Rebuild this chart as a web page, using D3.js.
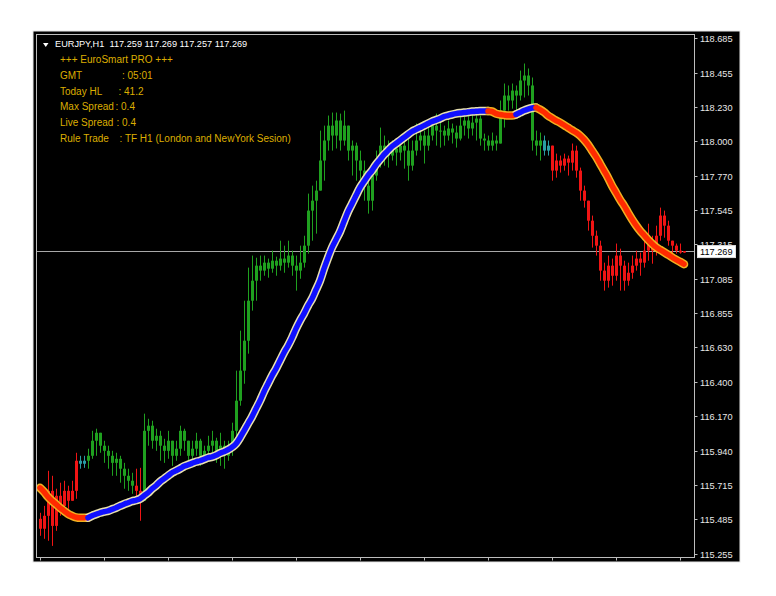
<!DOCTYPE html>
<html><head><meta charset="utf-8">
<script src="https://cdn.jsdelivr.net/npm/d3@7"></script>
<style>body{margin:0;background:#fff}svg{display:block}</style>
</head><body><svg id="c" width="776" height="596"></svg>
<script>
// ---------- DATA ----------
const symbol = "EURJPY,H1";
const lastBarOHLC = [117.259, 117.269, 117.257, 117.269];
const firstOpen = 115.489;
const closes = [115.423,115.509,115.675,115.442,115.642,115.575,115.675,115.609,115.675,115.875,
115.855,115.875,115.908,116.008,116.061,115.975,115.941,115.908,115.861,115.888,
115.822,115.775,115.742,115.709,115.675,115.609,116.074,116.108,116.008,116.041,
115.975,115.941,116.008,115.908,115.955,116.074,116.008,115.908,115.955,116.008,
115.908,115.941,115.975,116.008,115.941,115.975,115.908,115.955,116.074,116.274,
116.474,116.673,116.939,117.072,117.172,117.139,117.192,117.152,117.205,117.172,
117.219,117.192,117.239,117.172,117.139,117.192,117.305,117.538,117.604,117.671,
117.871,118.004,118.103,118.037,118.137,118.004,118.103,117.937,117.970,117.871,
117.804,117.704,117.604,117.771,117.871,117.970,117.937,117.904,117.951,117.924,
117.970,117.937,117.837,117.937,118.004,118.037,117.970,118.037,118.103,118.070,
118.070,118.037,118.084,118.057,118.017,118.103,118.137,118.084,118.123,118.150,
118.017,118.004,117.970,118.004,117.984,118.203,118.303,118.270,118.336,118.303,
118.403,118.436,118.370,118.004,117.970,118.004,117.937,117.970,117.804,117.871,
117.837,117.884,117.857,117.937,117.804,117.671,117.604,117.471,117.371,117.305,
117.139,117.072,117.172,117.105,117.239,117.172,117.072,117.125,117.172,117.219,
117.192,117.272,117.338,117.272,117.371,117.505,117.438,117.338,117.305,117.272,
117.259,117.269];
const highs = [115.529,115.575,115.808,115.775,115.689,115.729,115.742,115.709,115.742,115.928,
115.908,115.908,115.955,116.074,116.088,116.041,116.008,115.975,115.941,115.928,
115.908,115.861,115.822,115.795,115.822,115.828,116.188,116.154,116.141,116.088,
116.074,116.021,116.074,116.008,116.008,116.108,116.088,116.008,116.008,116.061,
116.021,115.975,116.041,116.074,116.028,116.061,116.008,116.008,116.128,116.474,
116.740,116.939,117.159,117.239,117.225,117.239,117.239,117.219,117.272,117.232,
117.338,117.305,117.338,117.272,117.239,117.305,117.371,117.651,117.704,117.737,
118.070,118.103,118.170,118.190,118.190,118.183,118.203,118.103,118.004,117.990,
117.937,117.871,117.771,117.837,117.937,118.090,118.037,118.004,118.004,117.990,
118.004,118.017,118.024,118.004,118.117,118.103,118.070,118.103,118.150,118.183,
118.137,118.103,118.137,118.117,118.103,118.170,118.183,118.170,118.183,118.190,
118.170,118.050,118.037,118.057,118.037,118.270,118.383,118.370,118.383,118.370,
118.469,118.516,118.483,118.423,118.070,118.057,118.037,118.004,117.937,117.917,
117.904,117.917,117.904,117.984,117.970,117.824,117.704,117.604,117.505,117.405,
117.338,117.192,117.239,117.219,117.319,117.285,117.205,117.192,117.239,117.272,
117.259,117.338,117.451,117.371,117.438,117.558,117.538,117.471,117.338,117.319,
117.319,117.269];
const lows = [115.376,115.356,115.343,115.309,115.409,115.509,115.529,115.556,115.609,115.622,
115.822,115.828,115.822,115.888,115.908,115.928,115.861,115.822,115.775,115.775,
115.729,115.689,115.675,115.655,115.609,115.476,115.609,115.975,115.955,115.941,
115.875,115.861,115.888,115.841,115.875,115.908,115.941,115.861,115.875,115.908,
115.841,115.861,115.888,115.928,115.861,115.841,115.822,115.875,115.908,116.008,
116.241,116.387,116.587,116.873,116.939,117.072,117.105,117.092,117.125,117.105,
117.139,117.125,117.159,117.105,117.006,117.085,117.159,117.252,117.338,117.385,
117.691,117.737,117.937,117.937,117.951,117.937,117.970,117.871,117.771,117.737,
117.704,117.604,117.518,117.538,117.737,117.824,117.837,117.824,117.871,117.837,
117.871,117.817,117.737,117.804,117.904,117.937,117.851,117.937,118.004,117.970,
117.957,117.970,118.004,117.984,117.957,118.004,118.037,118.017,118.037,118.004,
117.970,117.937,117.937,117.937,117.937,118.004,118.090,118.203,118.216,118.203,
118.270,118.290,118.303,117.937,117.904,117.871,117.904,117.904,117.737,117.757,
117.791,117.804,117.771,117.804,117.757,117.604,117.558,117.405,117.292,117.239,
117.072,117.006,117.026,117.039,117.072,117.006,117.006,117.039,117.085,117.139,
117.105,117.159,117.205,117.185,117.239,117.338,117.358,117.305,117.252,117.252,
117.252,117.257];
// bar colour state: d = down (red), t = transition (teal), u = up (green)
const barTrend = "dddddddddd" + "tt" + "uuuuuuuuuuuu" + "dd" + "u".repeat(100) + "tt" + "d".repeat(34);
const maValues = [115.695,115.668,115.635,115.609,115.586,115.562,115.542,115.522,115.509,115.499,
115.496,115.496,115.496,115.509,115.519,115.529,115.536,115.542,115.552,115.562,
115.575,115.586,115.596,115.606,115.612,115.622,115.642,115.662,115.689,115.709,
115.735,115.755,115.775,115.795,115.808,115.822,115.838,115.848,115.858,115.868,
115.875,115.885,115.895,115.901,115.911,115.925,115.935,115.948,115.965,115.988,
116.028,116.074,116.121,116.168,116.221,116.274,116.334,116.387,116.440,116.487,
116.540,116.593,116.640,116.693,116.753,116.806,116.853,116.906,116.952,117.012,
117.072,117.152,117.225,117.292,117.345,117.398,117.465,117.531,117.584,117.638,
117.691,117.731,117.771,117.804,117.844,117.877,117.910,117.937,117.964,117.984,
118.004,118.024,118.044,118.064,118.077,118.090,118.103,118.117,118.130,118.140,
118.150,118.163,118.170,118.177,118.183,118.187,118.190,118.193,118.197,118.198,
118.200,118.200,118.200,118.197,118.183,118.177,118.173,118.170,118.170,118.177,
118.190,118.203,118.213,118.220,118.223,118.210,118.193,118.170,118.153,118.137,
118.123,118.107,118.090,118.073,118.057,118.037,118.010,117.977,117.937,117.897,
117.851,117.804,117.757,117.704,117.658,117.611,117.571,117.525,117.481,117.441,
117.405,117.375,117.345,117.318,117.295,117.278,117.262,117.245,117.228,117.212,
117.198,117.182];
const maTrend = "d".repeat(13) + "u".repeat(100) + "d".repeat(7) + "u".repeat(5) + "d".repeat(37);
const priceTicks = [118.685,118.455,118.230,118.000,117.770,117.545,117.315,117.085,116.855,116.630,116.400,116.170,115.940,115.715,115.485,115.255];
const lastPrice = 117.269;
const timeTickEvery = 16;
const infoTitle = "+++ EuroSmart PRO +++";
const infoLabels = ["GMT","Today HL","Max Spread","Live Spread","Rule Trade"];
const infoValues = ["05:01","41.2","0.4","0.4","TF H1 (London and NewYork Sesion)"];

// ---------- LAYOUT ----------
const W = 776, H = 596;
const frame = {l: 36.5, t: 34.5, r: 694.5, b: 557.5};
const svg = d3.select("#c");
const x = d3.scaleLinear().domain([0, closes.length - 1]).range([40, 684]);
const y = d3.scaleLinear().domain([115.255, 118.685]).range([554, 38.1]);
const barColor = {d: "#f01414", t: "#2a9ea4", u: "#1fa01f"};
const maColor = {d: "#ff2a00", u: "#1010ff"};
const maEdge = {d: "#f0b020", u: "#e8e0b0"};

svg.append("rect").attr("x", 0).attr("y", 0).attr("width", W).attr("height", H).attr("fill", "#fff");
svg.append("rect").attr("x", 33).attr("y", 31).attr("width", 707).attr("height", 531).attr("fill", "#000")
  .attr("stroke", "#e6e6e6").attr("stroke-width", 1);

const plot = svg.append("g");
const clipId = "clipPlot";
svg.append("defs").append("clipPath").attr("id", clipId).append("rect")
  .attr("x", frame.l).attr("y", frame.t).attr("width", frame.r - frame.l).attr("height", frame.b - frame.t);
plot.attr("clip-path", `url(#${clipId})`);

// current price line
plot.append("line").attr("x1", frame.l).attr("x2", frame.r)
  .attr("y1", Math.round(y(lastPrice)) + 0.5).attr("y2", Math.round(y(lastPrice)) + 0.5)
  .attr("stroke", "#a8a8a8").attr("stroke-width", 1);

// candles
const bars = closes.map((c, i) => {
  const o = i === 0 ? firstOpen : closes[i - 1];
  return {i, o, c, h: Math.max(highs[i], o, c), l: Math.min(lows[i], o, c), t: barTrend[i]};
});
const cg = plot.append("g");
bars.forEach(b => {
  const cx = Math.round(x(b.i));
  const col = barColor[b.t];
  cg.append("line").attr("x1", cx + 0.5).attr("x2", cx + 0.5)
    .attr("y1", y(b.h)).attr("y2", y(b.l)).attr("stroke", col).attr("stroke-width", 1);
  const top = Math.min(y(b.o), y(b.c)), bot = Math.max(y(b.o), y(b.c));
  cg.append("rect").attr("x", cx - 1).attr("width", 3)
    .attr("y", top).attr("height", Math.max(1, bot - top)).attr("fill", col);
});

// moving average, coloured by trend runs
const runs = [];
for (let i = 0; i < maTrend.length; i++) {
  if (!runs.length || runs[runs.length - 1].t !== maTrend[i]) runs.push({t: maTrend[i], s: i, e: i});
  else runs[runs.length - 1].e = i;
}
const line = d3.line().x(d => x(d)).y(d => y(maValues[d])).curve(d3.curveMonotoneX);
const mg = plot.append("g");
runs.forEach(r => {
  const idx = d3.range(Math.max(0, r.s - 1), r.e + 1);
  mg.append("path").attr("d", line(idx)).attr("fill", "none")
    .attr("stroke", maEdge[r.t]).attr("stroke-width", 8.5).attr("stroke-linecap", "round");
});
runs.forEach(r => {
  const idx = d3.range(Math.max(0, r.s - 1), r.e + 1);
  mg.append("path").attr("d", line(idx)).attr("fill", "none")
    .attr("stroke", maColor[r.t]).attr("stroke-width", 5.5).attr("stroke-linecap", "round");
});

// frame
svg.append("rect").attr("x", frame.l).attr("y", frame.t).attr("width", frame.r - frame.l)
  .attr("height", frame.b - frame.t).attr("fill", "none").attr("stroke", "#bdbdbd").attr("stroke-width", 1);

// right price axis
const ax = svg.append("g");
priceTicks.forEach(p => {
  const yy = Math.round(y(p)) + 0.5;
  ax.append("line").attr("x1", frame.r).attr("x2", frame.r + 3).attr("y1", yy).attr("y2", yy)
    .attr("stroke", "#bdbdbd");
  ax.append("text").attr("x", 700).attr("y", yy + 3.3).text(p.toFixed(3))
    .attr("fill", "#e8e8e8").attr("font-family", "Liberation Sans, Arial, sans-serif").attr("font-size", 9.2);
});
// current price box
const py = y(lastPrice);
ax.append("rect").attr("x", 697.5).attr("y", py - 5.5).attr("width", 38).attr("height", 12)
  .attr("fill", "#fff").attr("stroke", "#ddd");
ax.append("text").attr("x", 700).attr("y", py + 3.8).text(lastPrice.toFixed(3))
  .attr("fill", "#000").attr("font-family", "Liberation Sans, Arial, sans-serif").attr("font-size", 9.2);

// bottom time ticks
d3.range(0, closes.length, timeTickEvery).forEach(i => {
  const xx = Math.round(x(i)) + 0.5;
  svg.append("line").attr("x1", xx).attr("x2", xx).attr("y1", frame.b).attr("y2", frame.b + 3)
    .attr("stroke", "#bdbdbd");
});

// header text
svg.append("path").attr("d", "M43,43 L48.5,43 L45.75,47 Z").attr("fill", "#fff");
svg.append("text").attr("x", 55).attr("y", 47.3)
  .attr("fill", "#fff").attr("font-family", "Liberation Sans, Arial, sans-serif").attr("font-size", 9.2)
  .attr("xml:space", "preserve").style("white-space", "pre")
  .text(symbol + "  " + lastBarOHLC.map(v => v.toFixed(3)).join(" "));

const gold = "#dcae00";
const tf = "Liberation Sans, Arial, sans-serif";
svg.append("text").attr("x", 60).attr("y", 63).text(infoTitle)
  .attr("fill", gold).attr("font-family", tf).attr("font-size", 10);
const colonX = [122, 118.5, 115.5, 116.5, 119.5];
infoLabels.forEach((lab, k) => {
  const by = 78.8 + k * 15.8;
  svg.append("text").attr("x", 60).attr("y", by).text(lab)
    .attr("fill", gold).attr("font-family", tf).attr("font-size", 10);
  svg.append("text").attr("x", colonX[k]).attr("y", by).text(": " + infoValues[k])
    .attr("fill", gold).attr("font-family", tf).attr("font-size", 10);
});
</script></body></html>
